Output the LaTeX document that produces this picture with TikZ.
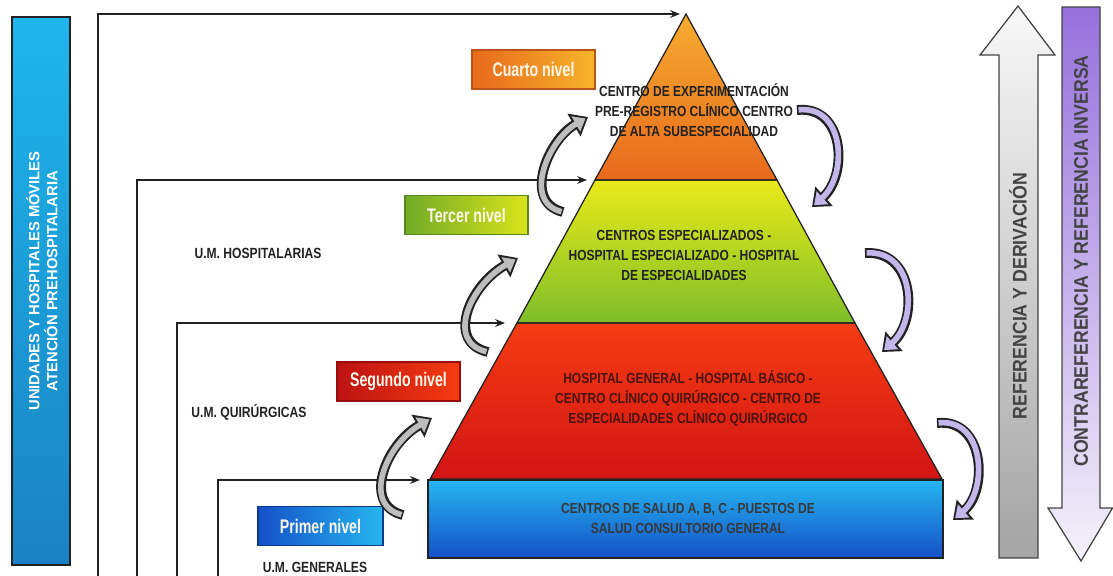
\documentclass[tikz,border=0pt]{standalone}
\usepackage{fontspec}
\setmainfont{Liberation Sans}
\newfontfamily\narA[FakeStretch=0.82]{Liberation Sans}
\newfontfamily\narB[FakeStretch=0.72]{Liberation Sans}
\newfontfamily\narC[FakeStretch=0.9]{Liberation Sans}
\usetikzlibrary{arrows.meta}
\definecolor{ink}{HTML}{222222}
\definecolor{orTop}{HTML}{F6AC30}
\definecolor{orBot}{HTML}{E8691C}
\definecolor{ygTop}{HTML}{EAEA18}
\definecolor{ygBot}{HTML}{7EBE2A}
\definecolor{rdTop}{HTML}{F53C12}
\definecolor{rdBot}{HTML}{D21414}
\definecolor{blTop}{HTML}{26B6F0}
\definecolor{blBot}{HTML}{1450C8}
\definecolor{barTop}{HTML}{1EB6EC}
\definecolor{barBot}{HTML}{1A82C2}
\definecolor{lvltext}{HTML}{FDF6E8}
\definecolor{upTop}{HTML}{F8F8F8}
\definecolor{upBot}{HTML}{A4A4A4}
\definecolor{dnTop}{HTML}{9670DC}
\definecolor{dnBot}{HTML}{F4F2FA}
\definecolor{grayarr}{HTML}{BDBDBD}
\definecolor{lavarr}{HTML}{C2B6EA}
\definecolor{redtext}{HTML}{4A1410}
\begin{document}
\begin{tikzpicture}[x=0.025cm,y=-0.025cm,
  conn/.style={draw=ink, line width=0.9pt, -{Stealth[length=7pt,width=5.5pt]}},
  pyr/.style={draw=ink, line width=0.9pt},
  ptext/.style={font=\narA\bfseries\fontsize{10.4pt}{14.2pt}\selectfont, align=center, text=ink, inner sep=0pt},
  lvl/.style={font=\narB\bfseries\fontsize{14pt}{16pt}\selectfont, text=lvltext, minimum width=3.075cm, minimum height=0.975cm, line width=0.8pt, inner sep=0pt},
  umtext/.style={font=\narA\bfseries\fontsize{10.5pt}{12pt}\selectfont, text=ink, inner sep=0pt},
  bigtext/.style={font=\narC\bfseries\fontsize{14pt}{16pt}\selectfont, text=ink!85, rotate=90, inner sep=0pt},
  cavout/.style={line width=7pt, draw=ink, -{Triangle[length=11.5pt,width=18pt]}},
  cavin/.style={line width=4pt, -{Triangle[length=8pt,width=12pt]}, shorten >=2pt, shorten <=1.1pt}
]
\useasboundingbox (0,0) rectangle (1113,575);

% left bar
\shade[top color=barTop, bottom color=barBot, draw=ink, line width=0.9pt] (12,17) rectangle (70,565);
\node[rotate=90, align=center, text=white, inner sep=0pt,
      font=\bfseries\fontsize{10.5pt}{12.8pt}\selectfont] (bar) at (42,281)
      {UNIDADES Y HOSPITALES MÓVILES\\ATENCIÓN PREHOSPITALARIA};

% pyramid
\coordinate (A) at (686,14);
\coordinate (L1) at (595,180); \coordinate (R1) at (777,180);
\coordinate (L2) at (517,323); \coordinate (R2) at (855,323);
\coordinate (L3) at (430,479); \coordinate (R3) at (942,479);
\shade[top color=orTop, bottom color=orBot] (A) -- (R1) -- (L1) -- cycle;
\shade[top color=ygTop, bottom color=ygBot] (L1) -- (R1) -- (R2) -- (L2) -- cycle;
\shade[top color=rdTop, bottom color=rdBot] (L2) -- (R2) -- (R3) -- (L3) -- cycle;
\shade[top color=blTop, bottom color=blBot] (428,480) rectangle (943,558);

\node[ptext] (t4) at (694,110) {CENTRO DE EXPERIMENTACIÓN\\PRE-REGISTRO CLÍNICO CENTRO\\DE ALTA SUBESPECIALIDAD};
\node[ptext] (t3) at (684,255) {CENTROS ESPECIALIZADOS -\\HOSPITAL ESPECIALIZADO - HOSPITAL\\DE ESPECIALIDADES};
\node[ptext, text=redtext] (t2) at (688,398) {HOSPITAL GENERAL - HOSPITAL BÁSICO -\\CENTRO CLÍNICO QUIRÚRGICO - CENTRO DE\\ESPECIALIDADES CLÍNICO QUIRÚRGICO};
\node[ptext, text=ink!90] (t1) at (688,518) {CENTROS DE SALUD A, B, C - PUESTOS DE\\SALUD CONSULTORIO GENERAL};

\draw[pyr] (A) -- (R1) -- (L1) -- cycle;
\draw[pyr] (L1) -- (R1) -- (R2) -- (L2) -- cycle;
\draw[pyr] (L2) -- (R2) -- (R3) -- (L3) -- cycle;
\draw[pyr] (428,480) rectangle (943,558);

% level labels
\node[lvl, left color=orBot, right color=orTop!90!yellow, draw=orBot!80!black] (cuarto) at (533.5,69.5) {Cuarto nivel};
\node[lvl, left color=ygBot!90!black, right color=ygTop!85!ygBot, draw=ygBot!70!black] (tercer) at (466.5,215) {Tercer nivel};
\node[lvl, left color=rdBot!90!black, right color=rdTop, draw=rdBot!70!black] (segundo) at (398.5,381.5) {Segundo nivel};
\node[lvl, left color=blBot, right color=blTop, draw=blBot!70!black, minimum width=3.125cm] (primer) at (320.5,526) {Primer nivel};

% U.M. labels
\node[umtext] (umh) at (258,253) {U.M. HOSPITALARIAS};
\node[umtext] (umq) at (249,412) {U.M. QUIRÚRGICAS};
\node[umtext] (umg) at (315,567) {U.M. GENERALES};

% connectors from the left
\coordinate (s1) at (98,576);  \coordinate (e1) at (680,14);
\coordinate (s2) at (137,576); \coordinate (e2) at (587,180);
\coordinate (s3) at (177,576); \coordinate (e3) at (505,323);
\coordinate (s4) at (218,576); \coordinate (e4) at (420,480);
\draw[conn] (s1) |- (e1);
\draw[conn] (s2) |- (e2);
\draw[conn] (s3) |- (e3);
\draw[conn] (s4) |- (e4);

% big arrows on the right
\shade[top color=upTop, bottom color=upBot, draw=ink!85, line width=0.9pt]
  (1018,6) -- (1055,55) -- (1038,55) -- (1038,558) -- (999,558) -- (999,55) -- (980,55) -- cycle;
\shade[top color=dnTop, bottom color=dnBot, draw=ink!85, line width=0.9pt]
  (1062,7) -- (1100,7) -- (1100,508) -- (1112.5,508) -- (1081,561) -- (1048,508) -- (1062,508) -- cycle;
\node[bigtext] (ref) at (1018,296) {REFERENCIA Y DERIVACIÓN};
\node[bigtext] (cref) at (1081,261) {CONTRAREFERENCIA Y REFERENCIA INVERSA};

% curved arrows (up, gray)
\coordinate (ua1) at (563,212); \coordinate (ub1) at (588,117);
\coordinate (ua2) at (488,352); \coordinate (ub2) at (518,258);
\coordinate (ua3) at (403,515); \coordinate (ub3) at (432,418);
\draw[cavout] (ua1) .. controls (522,202) and (548,140) .. (ub1);
\draw[cavin, draw=grayarr] (ua1) .. controls (522,202) and (548,140) .. (ub1);
\draw[cavout] (ua2) .. controls (445,342) and (470,285) .. (ub2);
\draw[cavin, draw=grayarr] (ua2) .. controls (445,342) and (470,285) .. (ub2);
\draw[cavout] (ua3) .. controls (362,505) and (385,445) .. (ub3);
\draw[cavin, draw=grayarr] (ua3) .. controls (362,505) and (385,445) .. (ub3);

% curved arrows (down, lavender)
\coordinate (da1) at (797,110); \coordinate (db1) at (812,207);
\coordinate (da2) at (865,253); \coordinate (db2) at (882,352);
\coordinate (da3) at (937,423); \coordinate (db3) at (953,520);
\draw[cavout] (da1) .. controls (845,105) and (848,175) .. (db1);
\draw[cavin, draw=lavarr] (da1) .. controls (845,105) and (848,175) .. (db1);
\draw[cavout] (da2) .. controls (915,250) and (918,320) .. (db2);
\draw[cavin, draw=lavarr] (da2) .. controls (915,250) and (918,320) .. (db2);
\draw[cavout] (da3) .. controls (985,418) and (988,490) .. (db3);
\draw[cavin, draw=lavarr] (da3) .. controls (985,418) and (988,490) .. (db3);
\end{tikzpicture}
\end{document}
